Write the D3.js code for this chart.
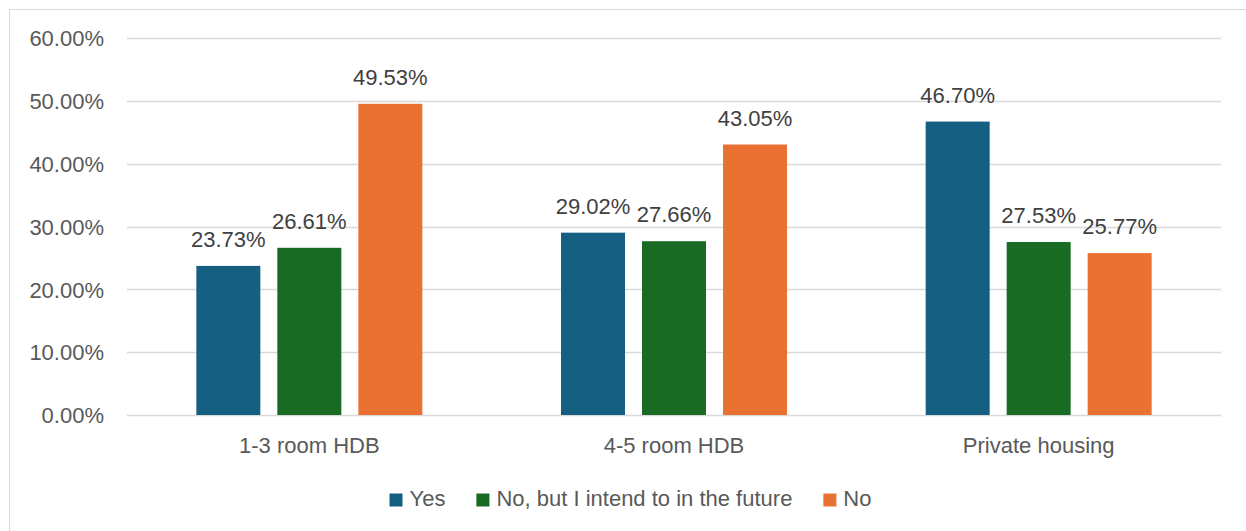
<!DOCTYPE html>
<html>
<head>
<meta charset="utf-8">
<script src="https://cdn.jsdelivr.net/npm/d3@7"></script>
<style>
  html, body { margin: 0; padding: 0; background: #fff; }
  svg { display: block; }
</style>
</head>
<body>
<div id="chart"></div>
<script>
// Housing type groups and the three response series (share of respondents, %)
const categories = ["1-3 room HDB", "4-5 room HDB", "Private housing"];
const seriesNames = ["Yes", "No, but I intend to in the future", "No"];
const yesValues = [23.73, 29.02, 46.70];
const intendValues = [26.61, 27.66, 27.53];
const noValues = [49.53, 43.05, 25.77];
const yTicks = [0, 10, 20, 30, 40, 50, 60];
const colors = ["#156082", "#196B24", "#E97132"];

const seriesValues = [yesValues, intendValues, noValues];

const W = 1246, H = 531;
const font = "'Liberation Sans', Arial, sans-serif";

const svg = d3.select("#chart").append("svg")
  .attr("width", W).attr("height", H);

// Chart frame (runs past the right and bottom edges of the page)
svg.append("rect")
  .attr("x", 9.5).attr("y", 9.5)
  .attr("width", 1260).attr("height", 560)
  .attr("fill", "#fff").attr("stroke", "#D9D9D9").attr("stroke-width", 1);

const plot = { left: 127, right: 1221, top: 38, bottom: 415 };

const x0 = d3.scaleBand()
  .domain(categories)
  .range([plot.left, plot.right])
  .paddingInner(0).paddingOuter(0);

const barW = 64, barGap = 17;
const x1 = d3.scaleBand()
  .domain(seriesNames)
  .range([0, 3 * barW + 2 * barGap])
  .paddingInner(barGap / (barW + barGap))
  .paddingOuter(0);

const y = d3.scaleLinear().domain([0, 60]).range([plot.bottom, plot.top]);

// Gridlines
svg.append("g").selectAll("line")
  .data(yTicks)
  .join("line")
  .attr("x1", plot.left).attr("x2", plot.right)
  .attr("y1", d => Math.round(y(d)) + 0.5).attr("y2", d => Math.round(y(d)) + 0.5)
  .attr("stroke", "#D9D9D9").attr("stroke-width", 1.3);

// Y axis labels
const yAxis = d3.axisLeft(y).tickValues(yTicks).tickSize(0).tickPadding(0)
  .tickFormat(d => d3.format(".2f")(d) + "%");
const yG = svg.append("g").attr("transform", `translate(104,0)`).call(yAxis);
yG.select(".domain").remove();
yG.selectAll("text")
  .attr("font-family", font).attr("font-size", 22).attr("fill", "#595959")
  .attr("dy", "0.35em");

// Bars
const groupOffset = (x0.bandwidth() - x1.range()[1]) / 2;
const groups = svg.append("g").selectAll("g")
  .data(categories)
  .join("g")
  .attr("transform", d => `translate(${x0(d) + groupOffset},0)`);

groups.selectAll("rect")
  .data((c, i) => seriesNames.map((s, k) => ({ s, k, v: seriesValues[k][i] })))
  .join("rect")
  .attr("x", d => x1(d.s))
  .attr("width", x1.bandwidth())
  .attr("y", d => y(d.v))
  .attr("height", d => y(0) - y(d.v))
  .attr("fill", d => colors[d.k]);

// Value labels
groups.selectAll("text")
  .data((c, i) => seriesNames.map((s, k) => ({ s, k, v: seriesValues[k][i] })))
  .join("text")
  .attr("x", d => x1(d.s) + x1.bandwidth() / 2)
  .attr("y", d => y(d.v) - 19)
  .attr("text-anchor", "middle")
  .attr("font-family", font).attr("font-size", 22).attr("fill", "#404040")
  .text(d => d3.format(".2f")(d.v) + "%");

// Category labels
const xAxis = d3.axisBottom(x0).tickSize(0).tickPadding(0);
const xG = svg.append("g").attr("transform", `translate(0,453)`).call(xAxis);
xG.select(".domain").remove();
xG.selectAll("text")
  .attr("font-family", font).attr("font-size", 22).attr("fill", "#595959")
  .attr("dy", 0);

// Legend
const legend = svg.append("g");
const items = legend.selectAll("g")
  .data(seriesNames)
  .join("g");
items.append("rect")
  .attr("width", 13).attr("height", 13)
  .attr("y", 493.5)
  .attr("fill", (d, i) => colors[i]);
items.append("text")
  .attr("x", 20).attr("y", 506)
  .attr("font-family", font).attr("font-size", 22).attr("fill", "#595959")
  .text(d => d);

let cx = 0;
const offsets = [];
items.each(function () {
  offsets.push(cx);
  const tw = d3.select(this).select("text").node().getComputedTextLength();
  cx += 20 + tw + 31;
});
const totalW = cx - 31;
const startX = 630.5 - totalW / 2;
items.attr("transform", (d, i) => `translate(${startX + offsets[i]},0)`);
</script>
</body>
</html>
